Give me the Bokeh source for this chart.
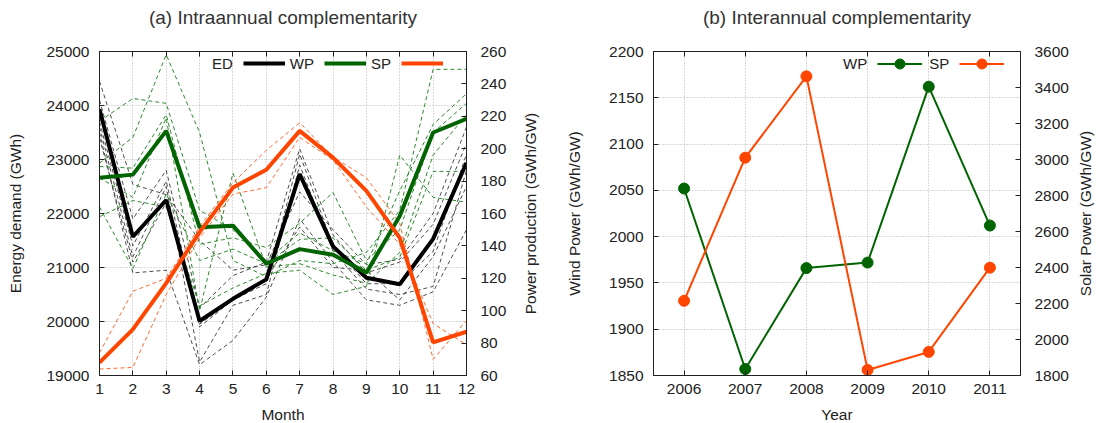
from bokeh.plotting import figure
from bokeh.models import Range1d, LinearAxis, FixedTicker, Legend, LegendItem, Title
from bokeh.layouts import row
from bokeh.embed import file_html
from bokeh.resources import INLINE

# ---------------- data: (a) intraannual ----------------
months = [1, 2, 3, 4, 5, 6, 7, 8, 9, 10, 11, 12]
ed_ticks = [19000, 20000, 21000, 22000, 23000, 24000, 25000]
power_ticks = [60, 80, 100, 120, 140, 160, 180, 200, 220, 240, 260]

ed_mean = [23930, 21570, 22250, 20010, 20420, 20780, 22730, 21390, 20810, 20690, 21530, 22940]
wp_mean = [182, 184, 211, 151.5, 152.5, 129, 138, 134.5, 123.5, 158.5, 210, 218.5]
sp_mean = [68, 88.5, 117, 148.5, 176, 187, 211, 194.5, 174, 145, 80.5, 87]

ed_y1 = [24450, 22540, 22350, 21500, 20950, 21050, 22400, 21700, 21050, 21150, 22000, 23600]
ed_y2 = [24100, 21900, 22800, 20250, 20850, 21100, 23200, 21600, 20900, 21100, 21800, 23300]
ed_y3 = [23700, 21400, 22600, 19900, 20400, 20700, 23100, 21400, 20700, 20700, 21300, 23100]
ed_y4 = [23600, 21200, 22500, 19250, 20300, 20500, 22900, 21300, 20600, 20500, 20650, 22800]
ed_y5 = [23500, 20900, 20950, 19200, 19650, 20450, 21900, 21100, 20400, 20300, 20550, 21700]
ed_y6 = [23400, 21100, 22200, 19950, 20400, 20800, 21750, 21000, 20950, 20400, 21200, 22500]

wp_y1 = [217, 231, 228, 162, 150, 131, 148, 137, 129, 174, 215, 234]
wp_y2 = [191, 207, 258, 210, 131, 121, 131, 129, 136, 162, 249, 249]
wp_y3 = [189, 188, 221, 141, 145, 139, 154, 173, 131, 150, 210, 228]
wp_y4 = [182, 170, 219, 100, 185, 127, 129, 122, 117, 136, 196, 221]
wp_y5 = [164, 126, 172, 131, 138, 129, 144, 145, 125, 133, 186, 186]
wp_y6 = [158, 168, 164, 103, 114, 123, 125, 110, 115, 196, 170, 167]

sp_y1 = [74, 112, 120, 152, 179, 199, 216, 195, 182, 154, 70, 94]
sp_y2 = [64, 65, 110, 145, 172, 176, 207, 193, 164, 141, 92, 79]

# ---------------- data: (b) interannual ----------------
years = [2006, 2007, 2008, 2009, 2010, 2011]
wind_ticks = [1850, 1900, 1950, 2000, 2050, 2100, 2150, 2200]
solar_ticks = [1800, 2000, 2200, 2400, 2600, 2800, 3000, 3200, 3400, 3600]
wp_year = [2052, 1857, 1966, 1972, 2162, 2012]
sp_year = [2215, 3010, 3462, 1831, 1931, 2399]

FONT = "Liberation Sans"
TXT = "#222222"
FRAME = "#222222"
GREEN = "#006400"
ORANGE = "#ff4500"
FS = "15.5px"

FRAME_W = 367
FRAME_H = 324
TOP = 51
BOTTOM = 48


def style_axis(ax, label_standoff, axis_label_standoff):
    ax.major_tick_in = 5
    ax.major_tick_out = 0
    ax.minor_tick_line_color = None
    ax.major_tick_line_color = FRAME
    ax.axis_line_color = FRAME
    ax.major_label_text_font = FONT
    ax.major_label_text_font_size = FS
    ax.major_label_text_color = TXT
    ax.axis_label_text_font = FONT
    ax.axis_label_text_font_size = FS
    ax.axis_label_text_font_style = "normal"
    ax.axis_label_text_color = TXT
    ax.major_label_standoff = label_standoff
    ax.axis_label_standoff = axis_label_standoff


def style_fig(p):
    p.outline_line_color = FRAME
    p.outline_line_width = 1
    for g in (p.xgrid, p.ygrid):
        g.grid_line_color = "#b4b4b4"
        g.grid_line_dash = "1 2"
        g.grid_line_width = 1


def mirror_top(p, ticks, title):
    # top border with inward ticks; its axis label carries the panel title
    top = LinearAxis(ticker=FixedTicker(ticks=ticks), axis_label=title)
    style_axis(top, 0, 24)
    top.major_label_text_font_size = "1px"
    top.major_label_text_color = None
    top.axis_label_text_font_size = "19px"
    top.axis_label_text_color = "#333333"
    p.add_layout(top, "above")


def label_strip(text, left, right):
    # a blank strip whose left-side title gives a bottom-to-top vertical label
    f = figure(frame_width=1, frame_height=FRAME_H, min_border_left=left,
               min_border_right=right, min_border_top=TOP, min_border_bottom=BOTTOM,
               x_axis_location=None, y_axis_location=None,
               x_range=Range1d(0, 1), y_range=Range1d(0, 1),
               output_backend="svg", toolbar_location=None)
    f.outline_line_color = None
    f.grid.grid_line_color = None
    f.grid.visible = False
    f.add_layout(Title(text=text, align="center", text_font=FONT, text_font_size=FS,
                       text_font_style="normal", text_color=TXT, standoff=4), "left")
    return f


# ================= panel (a) =================
p1 = figure(frame_width=FRAME_W, frame_height=FRAME_H,
            min_border_left=99, min_border_right=46,
            min_border_top=TOP, min_border_bottom=BOTTOM,
            x_range=Range1d(1, 12), y_range=Range1d(19000, 25000),
            output_backend="svg", toolbar_location=None, title=None)
p1.extra_y_ranges = {"power": Range1d(60, 260)}
style_fig(p1)

p1.xaxis.ticker = FixedTicker(ticks=months)
p1.yaxis.ticker = FixedTicker(ticks=ed_ticks)
p1.xaxis.axis_label = "Month"
p1.yaxis.axis_label = "Energy demand (GWh)"
style_axis(p1.xaxis[0], 8, 9)
style_axis(p1.yaxis[0], 10, 19)

ax_r1 = LinearAxis(y_range_name="power", ticker=FixedTicker(ticks=power_ticks))
style_axis(ax_r1, 14, 0)
p1.add_layout(ax_r1, "right")
mirror_top(p1, months, "(a) Intraannual complementarity")

for ys in (ed_y1, ed_y2, ed_y3, ed_y4, ed_y5, ed_y6):
    p1.line(months, ys, line_color="#3a3a3a", line_width=1, line_dash="4 3", line_alpha=0.9)
for ys in (wp_y1, wp_y2, wp_y3, wp_y4, wp_y5, wp_y6):
    p1.line(months, ys, line_color="#2d8a2d", line_width=1, line_dash="4 3",
            y_range_name="power")
for ys in (sp_y1, sp_y2):
    p1.line(months, ys, line_color="#ff6a33", line_width=1, line_dash="4 3",
            y_range_name="power")

r_ed = p1.line(months, ed_mean, line_color="black", line_width=4)
r_wp = p1.line(months, wp_mean, line_color=GREEN, line_width=4, y_range_name="power")
r_sp = p1.line(months, sp_mean, line_color=ORANGE, line_width=4, y_range_name="power")
ghost1 = p1.line(x=[], y=[], line_alpha=0)

# gnuplot-style key: "label  sample"
leg1 = Legend(items=[LegendItem(label="ED", renderers=[ghost1]),
                     LegendItem(label="WP", renderers=[r_ed]),
                     LegendItem(label="SP", renderers=[r_wp]),
                     LegendItem(label=" ", renderers=[r_sp])],
              orientation="horizontal", location=(66, 302),
              glyph_width=42, glyph_height=20, label_standoff=5, spacing=10,
              padding=0, label_width=0, label_height=20,
              border_line_color=None, background_fill_alpha=0,
              label_text_font=FONT, label_text_font_size="15px", label_text_color=TXT)
p1.add_layout(leg1)

strip1 = label_strip("Power production (GWh/GW)", 28, 19)

# ================= panel (b) =================
p2 = figure(frame_width=FRAME_W, frame_height=FRAME_H,
            min_border_left=93, min_border_right=52,
            min_border_top=TOP, min_border_bottom=BOTTOM,
            x_range=Range1d(2005.5, 2011.5), y_range=Range1d(1850, 2200),
            output_backend="svg", toolbar_location=None, title=None)
p2.extra_y_ranges = {"solar": Range1d(1800, 3600)}
style_fig(p2)

p2.xaxis.ticker = FixedTicker(ticks=years)
p2.yaxis.ticker = FixedTicker(ticks=wind_ticks)
p2.xaxis.axis_label = "Year"
p2.yaxis.axis_label = "Wind Power (GWh/GW)"
style_axis(p2.xaxis[0], 8, 9)
style_axis(p2.yaxis[0], 10, 23)

ax_r2 = LinearAxis(y_range_name="solar", ticker=FixedTicker(ticks=solar_ticks))
style_axis(ax_r2, 14, 0)
p2.add_layout(ax_r2, "right")
mirror_top(p2, years, "(b) Interannual complementarity")

l_wp = p2.line(years, wp_year, line_color=GREEN, line_width=2)
s_wp = p2.scatter(years, wp_year, size=11, marker="circle", fill_color=GREEN, line_color=GREEN)
l_sp = p2.line(years, sp_year, line_color=ORANGE, line_width=2, y_range_name="solar")
s_sp = p2.scatter(years, sp_year, size=11, marker="circle", fill_color=ORANGE,
                  line_color=ORANGE, y_range_name="solar")
ghost2 = p2.line(x=[], y=[], line_alpha=0)

leg2 = Legend(items=[LegendItem(label="WP", renderers=[ghost2]),
                     LegendItem(label="SP", renderers=[l_wp, s_wp]),
                     LegendItem(label=" ", renderers=[l_sp, s_sp])],
              orientation="horizontal", location=(138, 299),
              glyph_width=45, glyph_height=25, label_standoff=7, spacing=10,
              padding=0, label_width=0, label_height=25,
              border_line_color=None, background_fill_alpha=0,
              label_text_font=FONT, label_text_font_size="15px", label_text_color=TXT)
p2.add_layout(leg2)

strip2 = label_strip("Solar Power (GWh/GW)", 23, 12)

layout = row(p1, strip1, p2, strip2)
open("out.html", "w").write(file_html(layout, INLINE))
